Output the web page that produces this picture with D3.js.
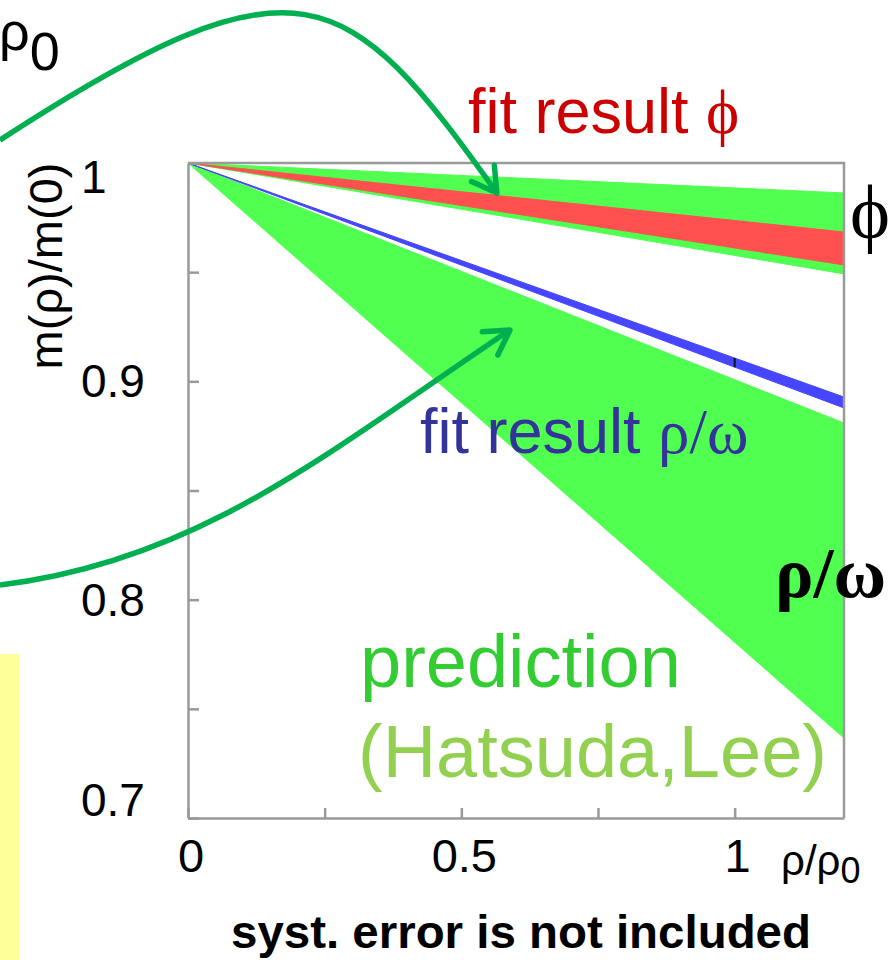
<!DOCTYPE html>
<html>
<head>
<meta charset="utf-8">
<script src="https://cdn.jsdelivr.net/npm/d3@7"></script>
<style>
  body { margin: 0; background: #fff; }
  svg { display: block; }
</style>
</head>
<body>
<script>
// density rho/rho0 at the two ends of every band (bands are straight from m/m0 = 1)
const rho = [0, 1.2];
const phiPredHi = [1, 0.9863], phiPredLo = [1, 0.9492];
const phiFitHi = [1, 0.9684], phiFitLo = [1, 0.9533];
const omegaFitHi = [1, 0.8928], omegaFitLo = [1, 0.8878];
const omegaPredHi = [1, 0.8809], omegaPredLo = [1, 0.7366];
const fitMark = [1.0];

const yMinor = [0.7, 0.75, 0.8, 0.85, 0.9, 0.95, 1];
const yTicks = [1, 0.9, 0.8, 0.7];
const yTickLabels = ['1', '0.9', '0.8', '0.7'];
const xMinor = [0, 0.25, 0.5, 0.75, 1];
const xTicks = [0, 0.5, 1];
const xTickLabels = ['0', '0.5', '1'];

// annotation arrows as cubic curves (start, control, control, tip), data units
const arrowPhi = [[-0.344, 1.0105], [0.205, 1.0999], [0.291, 1.0824], [0.565, 0.9863]];
const arrowOmega = [[-0.344, 0.8067], [0.022, 0.8177], [0.26, 0.8683], [0.589, 0.9235]];

const width = 893, height = 960;
const sans = "'Liberation Sans', Arial, sans-serif";
const serif = "'Liberation Serif', 'Times New Roman', serif";

const x = d3.scaleLinear().domain([0, 1.2]).range([188, 844]);
const y = d3.scaleLinear().domain([0.7, 1]).range([818, 163]);

const svg = d3.select('body').append('svg')
  .attr('width', width)
  .attr('height', height);

// yellow strip at the left edge
svg.append('rect')
  .attr('x', 0).attr('y', 654).attr('width', 19).attr('height', height - 654)
  .attr('fill', '#ffff99');

const band = (lo, hi) => rho.map((r, i) => ({ r: r, lo: lo[i], hi: hi[i] }));
const area = d3.area()
  .x(d => x(d.r))
  .y0(d => y(d.lo))
  .y1(d => y(d.hi));

const bands = [
  { data: band(phiPredLo, phiPredHi), fill: '#50ff50' },
  { data: band(phiFitLo, phiFitHi), fill: '#ff5050' },
  { data: band(omegaPredLo, omegaPredHi), fill: '#50ff50' },
  { data: band(omegaFitLo, omegaFitHi), fill: '#4646ff' }
];
svg.selectAll('.band')
  .data(bands)
  .enter()
  .append('path')
  .attr('class', 'band')
  .attr('d', d => area(d.data))
  .attr('fill', d => d.fill)
  .attr('stroke', d => d.fill)
  .attr('stroke-width', 1);

// black mark on the rho/omega fit
const interp = (arr, r) => arr[0] + (arr[1] - arr[0]) * r / rho[1];
svg.selectAll('.mark')
  .data(fitMark)
  .enter()
  .append('line')
  .attr('x1', d => x(d)).attr('x2', d => x(d))
  .attr('y1', d => y(interp(omegaFitHi, d)))
  .attr('y2', d => y(interp(omegaFitLo, d)))
  .attr('stroke', '#111')
  .attr('stroke-width', 2);

// frame and inward ticks
const axisColor = '#9a9a9a';
const yAxis = svg.append('g')
  .attr('transform', `translate(${x(0)},0)`)
  .call(d3.axisLeft(y).tickValues(yMinor).tickSize(-11).tickSizeOuter(0).tickFormat(''));
const xAxis = svg.append('g')
  .attr('transform', `translate(0,${y(0.7)})`)
  .call(d3.axisBottom(x).tickValues(xMinor).tickSize(-10).tickSizeOuter(0).tickFormat(''));
[yAxis, xAxis].forEach(g => {
  g.selectAll('path, line').attr('stroke', axisColor).attr('stroke-width', 2.5);
});
svg.append('path')
  .attr('d', `M${x(0)},${y(1)}H${x(1.2)}V${y(0.7)}`)
  .attr('fill', 'none')
  .attr('stroke', axisColor)
  .attr('stroke-width', 2.5);

// tick labels
svg.selectAll('.ylab')
  .data(yTicks)
  .enter()
  .append('text')
  .attr('class', 'ylab')
  .attr('x', 81)
  .attr('y', d => Math.min(Math.max(y(d), 177), 800))
  .attr('dy', '0.35em')
  .attr('font-family', sans)
  .attr('font-size', 46)
  .text((d, i) => yTickLabels[i]);

svg.selectAll('.xlab')
  .data(xTicks)
  .enter()
  .append('text')
  .attr('class', 'xlab')
  .attr('x', d => x(d) + 3)
  .attr('y', 872)
  .attr('text-anchor', 'middle')
  .attr('font-family', sans)
  .attr('font-size', 47)
  .text((d, i) => xTickLabels[i]);

// x unit
const xu = svg.append('text')
  .attr('x', 781).attr('y', 875)
  .attr('font-family', sans)
  .attr('font-size', 42);
xu.append('tspan').text('ρ/ρ');
xu.append('tspan').attr('dy', 8).attr('font-size', 36).text('0');

// y title
svg.append('text')
  .attr('transform', 'translate(62,266) rotate(-90)')
  .attr('text-anchor', 'middle')
  .attr('font-family', sans)
  .attr('font-size', 47)
  .text('m(ρ)/m(0)');

// leftover of a cut off line at the top left
const r0 = svg.append('text')
  .attr('x', -1).attr('y', 50)
  .attr('font-family', sans)
  .attr('font-size', 54);
r0.append('tspan').text('ρ');
r0.append('tspan').attr('dy', 20).text('0');

// annotations
const fitPhi = svg.append('text')
  .attr('x', 468).attr('y', 133)
  .attr('font-family', sans)
  .attr('font-size', 63)
  .attr('fill', '#cc0000');
fitPhi.append('tspan').text('fit result ');
fitPhi.append('tspan').attr('font-family', serif).text('ϕ');

const fitOmega = svg.append('text')
  .attr('x', 420).attr('y', 453)
  .attr('font-family', sans)
  .attr('font-size', 63)
  .attr('fill', '#333399');
fitOmega.append('tspan').text('fit result ');
fitOmega.append('tspan').attr('font-family', serif).text('ρ/ω');

svg.append('text')
  .attr('x', 850).attr('y', 238)
  .attr('font-family', serif)
  .attr('font-size', 76)
  .text('ϕ');

svg.append('text')
  .attr('x', 775).attr('y', 597)
  .attr('font-family', serif)
  .attr('font-weight', 'bold')
  .attr('font-size', 72)
  .text('ρ/ω');

svg.append('text')
  .attr('x', 360).attr('y', 687)
  .attr('font-family', sans)
  .attr('font-size', 74)
  .attr('fill', '#33cc33')
  .text('prediction');

svg.append('text')
  .attr('x', 358).attr('y', 777)
  .attr('font-family', sans)
  .attr('font-size', 74)
  .attr('fill', '#92d050')
  .text('(Hatsuda,Lee)');

svg.append('text')
  .attr('x', 521).attr('y', 948)
  .attr('text-anchor', 'middle')
  .attr('font-family', sans)
  .attr('font-weight', 'bold')
  .attr('font-size', 47)
  .attr('textLength', 580)
  .attr('lengthAdjust', 'spacingAndGlyphs')
  .text('syst. error is not included');

// green arrows
const arrowGreen = '#00b050';
svg.append('defs').append('marker')
  .attr('id', 'head')
  .attr('markerUnits', 'userSpaceOnUse')
  .attr('orient', 'auto')
  .attr('overflow', 'visible')
  .attr('refX', 0).attr('refY', 0)
  .append('path')
  .attr('d', 'M-24,-14L0,0L-24,14')
  .attr('fill', 'none')
  .attr('stroke', arrowGreen)
  .attr('stroke-width', 5.5)
  .attr('stroke-linecap', 'round')
  .attr('stroke-linejoin', 'round');

const curve = pts => {
  const p = pts.map(d => [x(d[0]), y(d[1])]);
  const path = d3.path();
  path.moveTo(p[0][0], p[0][1]);
  path.bezierCurveTo(p[1][0], p[1][1], p[2][0], p[2][1], p[3][0], p[3][1]);
  return path.toString();
};

svg.selectAll('.arrow')
  .data([arrowPhi, arrowOmega])
  .enter()
  .append('path')
  .attr('class', 'arrow')
  .attr('d', curve)
  .attr('fill', 'none')
  .attr('stroke', arrowGreen)
  .attr('stroke-width', 5.5)
  .attr('marker-end', 'url(#head)');
</script>
</body>
</html>
